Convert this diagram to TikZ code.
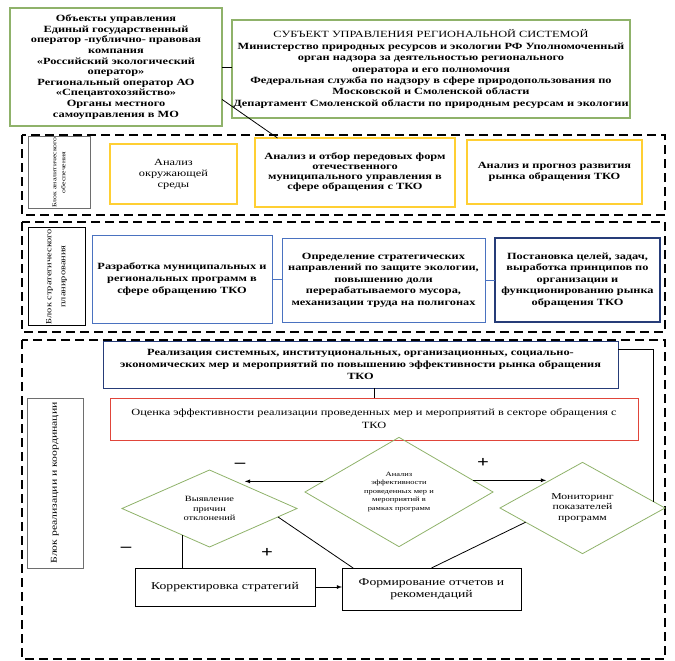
\documentclass[tikz,border=0pt]{standalone}
\usepackage{fontspec}
\setmainfont{Liberation Serif}[FakeStretch=1.3]
\usetikzlibrary{arrows,shapes.geometric}
\definecolor{grn}{HTML}{8FB26A}
\definecolor{ylw}{HTML}{FFCF33}
\definecolor{blu}{HTML}{4A72C0}
\definecolor{navy}{HTML}{263C78}
\definecolor{redl}{HTML}{E0453A}
\definecolor{gry}{HTML}{6E6E6E}
\newcommand{\fsz}[2]{\fontsize{#1}{#2}\selectfont}
\begin{document}
\begin{tikzpicture}[x=1pt,y=-1pt,
  box/.style={draw,rectangle,align=center,inner sep=1pt,outer sep=0pt,line width=0.8pt},
  grnbox/.style={box,draw=grn,line width=1.5pt},
  ylwbox/.style={box,draw=ylw,line width=1.4pt},
  blubox/.style={box,draw=blu,line width=1pt},
  lblbox/.style={box,rotate=90},
  rhomb/.style={draw=grn,diamond,align=center,inner sep=0pt,outer sep=0pt,line width=0.8pt},
  frame/.style={line width=1.6pt,dash pattern=on 9pt off 5pt},
  link/.style={line width=0.8pt},
  sign/.style={font=\fsz{16}{16}\bfseries,inner sep=0pt}]
\useasboundingbox (0,0) rectangle (675,661);

\node[grnbox,minimum width=212,minimum height=118,font=\fsz{9.5}{10.6}\bfseries] (obj) at (116,67)
  {Объекты управления\\Единый государственный\\оператор -публично- правовая\\компания\\«Российский экологический\\оператор»\\Региональный оператор АО\\«Спецавтохозяйство»\\Органы местного\\самоуправления в МО};
\node[grnbox,minimum width=398,minimum height=98,font=\fsz{9.5}{11.4}\bfseries] (subj) at (431,69)
  {{\mdseries СУБЪЕКТ УПРАВЛЕНИЯ РЕГИОНАЛЬНОЙ СИСТЕМОЙ}\\Министерство природных ресурсов и экологии РФ Уполномоченный\\орган надзора за деятельностью регионального\\оператора и его полномочия\\Федеральная служба по надзору в сфере природопользования по\\Московской и Смоленской области\\Департамент Смоленской области по природным ресурсам и экологии};

\draw[frame] (22,135) rectangle (665,215);
\draw[frame] (22,222) rectangle (665,332);
\draw[frame] (22,340) rectangle (665,659);

\node[lblbox,draw=gry,minimum width=69,minimum height=62,font=\fsz{6}{9}] (lbl1) at (59,172.5) {Блок аналитического\\обеспечения};
\node[ylwbox,minimum width=127,minimum height=60,font=\fsz{9.5}{11}] (envan) at (173.5,174) {Анализ\\окружающей\\среды};
\node[ylwbox,draw=ylw,minimum width=200,minimum height=69,font=\fsz{9.5}{10}\bfseries] (otbor) at (355,172.5) {Анализ и отбор передовых форм\\отечественного\\муниципального управления в\\сфере обращения с ТКО};
\node[ylwbox,minimum width=175,minimum height=64,font=\fsz{9.5}{10.5}\bfseries] (progn) at (554.5,172) {Анализ и прогноз развития\\рынка обращения ТКО};

\node[lblbox,minimum width=97,minimum height=57,font=\fsz{8}{14}] (lbl2) at (56.5,276.5) {Блок стратегического\\планирования};
\node[blubox,minimum width=180,minimum height=88,font=\fsz{9.5}{12}\bfseries] (razr) at (182,279) {Разработка муниципальных и\\региональных программ в\\сфере обращению ТКО};
\node[blubox,minimum width=203,minimum height=84,font=\fsz{9.5}{11.5}\bfseries] (opred) at (383.5,280) {Определение стратегических\\направлений по защите экологии,\\повышению доли\\перерабатываемого мусора,\\механизации труда на полигонах};
\node[blubox,draw=navy,line width=1.3pt,minimum width=165,minimum height=84,font=\fsz{9.5}{11.5}\bfseries] (post) at (577.5,280) {Постановка целей, задач,\\выработка принципов по\\организации и\\функционированию рынка\\обращения ТКО};

\node[lblbox,draw=gry,minimum width=170,minimum height=56,font=\fsz{9}{11}] (lbl3) at (55,483) {Блок реализации и координации};
\node[box,draw=navy,minimum width=515,minimum height=47,font=\fsz{9.5}{12}\bfseries] (real) at (360.5,364.5) {Реализация системных, институциональных, организационных, социально-\\экономических мер и мероприятий по повышению эффективности рынка обращения\\ТКО};
\node[box,draw=redl,minimum width=528,minimum height=42,font=\fsz{9.5}{13}] (ocenka) at (374,419) {Оценка эффективности реализации проведенных мер и мероприятий в секторе обращения с\\ТКО};
\node[rhomb,minimum width=175,minimum height=77,font=\fsz{8}{9.5}] (vyyav) at (209.5,508.5) {Выявление\\причин\\отклонений};
\node[rhomb,minimum width=188,minimum height=106,font=\fsz{6.5}{8.5}] (analiz) at (399,492) {Анализ\\эффективности\\проведенных мер и\\мероприятий в\\рамках программ};
\node[rhomb,minimum width=165,minimum height=82,font=\fsz{9}{10.5}] (monit) at (582.5,508) {Мониторинг\\показателей\\программ};
\node[box,minimum width=180,minimum height=38,font=\fsz{10.5}{12}] (korr) at (225,587) {Корректировка стратегий};
\node[box,minimum width=179,minimum height=42,font=\fsz{10.5}{12}] (form) at (431.5,589) {Формирование отчетов и\\рекомендаций};

\node[sign] (minusA) at (240,465) {–};
\node[sign] (plusA) at (483,463) {+};
\node[sign] (minusK) at (126,549) {–};
\node[sign] (plusF) at (267,553) {+};

\draw[link] (obj.east) -- (obj.east -| subj.west);
\draw[link] (obj.-17) -- (otbor.156);
\draw[link,draw=blu] (razr.east) -- (razr.east -| opred.west);
\draw[link,draw=blu] (opred.east) -- (opred.east -| post.west);
\draw[link] (ocenka.north |- real.south) -- (ocenka.north);
\draw[link,-latex] (analiz.172) -- (analiz.172 -| vyyav.33);
\draw[link,-latex] (analiz.9) -- (analiz.9 -| monit.145);
\draw[link] (vyyav.225) -- (vyyav.225 |- korr.north);
\draw[link] (vyyav.-7) -- (form.165);
\draw[link] (form.north) -- (monit.194);
\draw[link,-latex] (korr.east) -- (korr.east -| form.west);
\draw[link] (monit.5) |- ([yshift=-8pt]real.north east);
\end{tikzpicture}
\end{document}
